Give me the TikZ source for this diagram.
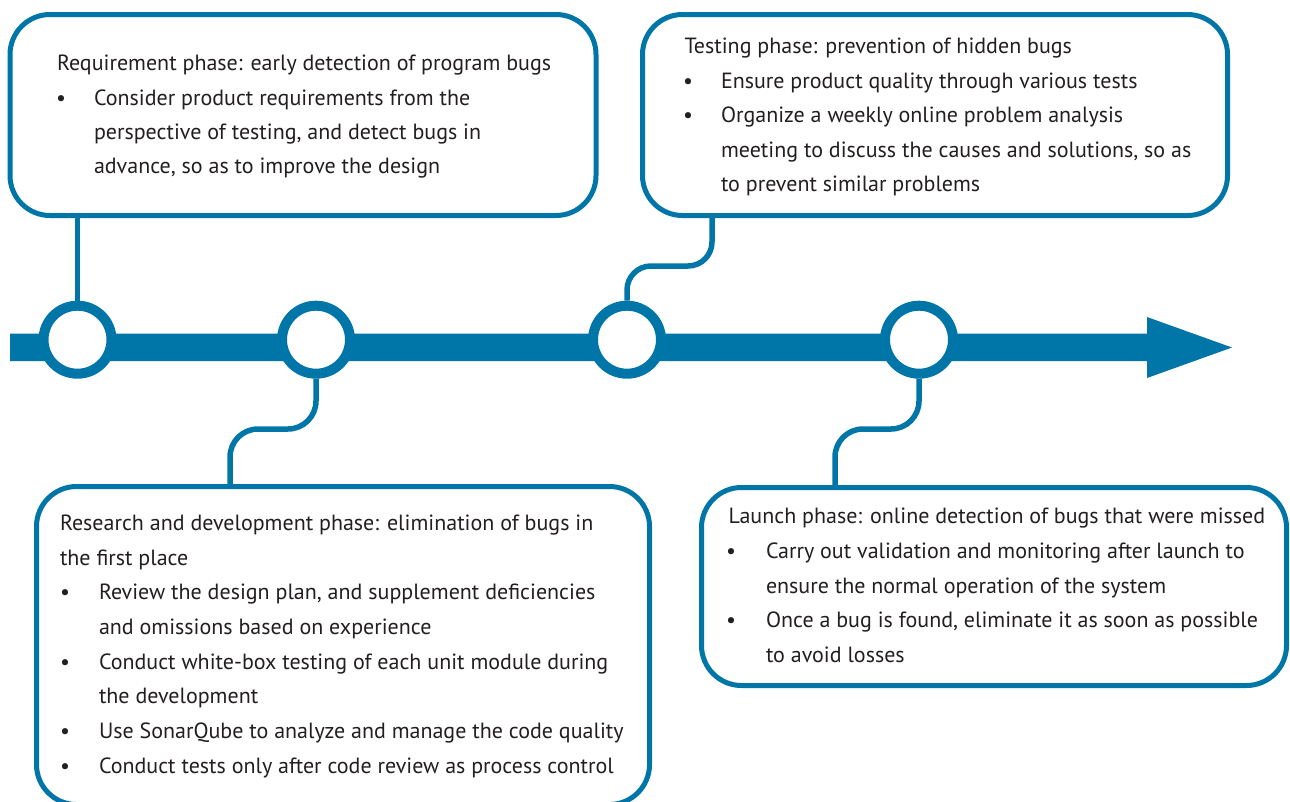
\documentclass[tikz,border=0pt]{standalone}
\usepackage{fontspec}
\setmainfont{PT Sans}
\definecolor{tblue}{RGB}{0,118,168}
\definecolor{ink}{RGB}{35,31,32}
\newcommand{\bodyfont}{\fontsize{22pt}{26pt}\selectfont}
\begin{document}
\begin{tikzpicture}[x=1pt,y=-1pt,
  txt/.style={anchor=base west, inner sep=0pt, outer sep=0pt, text=ink, font=\bodyfont},
  bul/.style={anchor=base, inner sep=0pt, outer sep=0pt, text=ink, font=\bodyfont},
  box/.style={draw=tblue, line width=5pt, rounded corners=40pt, fill=white, inner sep=0pt},
  ring/.style={circle, draw=tblue, line width=10pt, fill=white, minimum size=68pt, inner sep=0pt},
  link/.style={draw=tblue, line width=5.5pt},
]
\useasboundingbox (0,0) rectangle (1290,801);
\begin{scope}
\clip (0,0) rectangle (1290,801);
% boxes
\node[box, minimum width=586pt, minimum height=201pt] (b1) at (303,115) {};
\node[box, minimum width=585pt, minimum height=201pt] (b2) at (935,115) {};
\node[box, minimum width=613pt, minimum height=318pt] (b3) at (343,645.5) {};
\node[box, minimum width=585pt, minimum height=198pt] (b4) at (994,586.5) {};
% timeline arrow
\fill[tblue] (10,333.5) -- (1147,333.5) -- (1147,317) -- (1232,347.5) -- (1147,378) -- (1147,361) -- (10,361) -- cycle;
% rings
\node[ring] (c1) at (77.5,339.7) {};
\node[ring] (c2) at (316,339.7) {};
\node[ring] (c3) at (627,339.7) {};
\node[ring] (c4) at (919,339.7) {};
% connectors
\draw[link] (c1.north) -- (c1.north |- b1.south);
\draw[link, rounded corners=28pt] (c2.south) -- (316,429) -- (230,429) -- (230,487);
\draw[link, rounded corners=24pt] (c3.north) -- (627,266) -- (712,266) -- (712,215);
\draw[link, rounded corners=28pt] (c4.south) -- (919,429) -- (835,429) -- (835,488);
\end{scope}
% box 1 text
\node[txt] (t1a) at (57,70) {Requirement phase: early detection of program bugs};
\node[bul] (u1a) at (61,105) {•};
\node[txt] (t1b) at (94,105) {Consider product requirements from the};
\node[txt] (t1c) at (94,139.5) {perspective of testing, and detect bugs in};
\node[txt] (t1d) at (94,173) {advance, so as to improve the design};
% box 2 text
\node[txt] (t2a) at (684.5,53) {Testing phase: prevention of hidden bugs};
\node[bul] (u2a) at (688,88) {•};
\node[txt] (t2b) at (721,88) {Ensure product quality through various tests};
\node[bul] (u2b) at (688,122) {•};
\node[txt] (t2c) at (721,122) {Organize a weekly online problem analysis};
\node[txt] (t2d) at (721,157) {meeting to discuss the causes and solutions, so as};
\node[txt] (t2e) at (721,191) {to prevent similar problems};
% box 3 text
\node[txt] (t3a) at (60,530) {Research and development phase: elimination of bugs in};
\node[txt] (t3b) at (60,565) {the first place};
\node[bul] (u3a) at (65,599) {•};
\node[txt] (t3c) at (99,599) {Review the design plan, and supplement deficiencies};
\node[txt] (t3d) at (99,634) {and omissions based on experience};
\node[bul] (u3b) at (65,669) {•};
\node[txt] (t3e) at (99,669) {Conduct white-box testing of each unit module during};
\node[txt] (t3f) at (99,703) {the development};
\node[bul] (u3c) at (65,738) {•};
\node[txt] (t3g) at (99,738) {Use SonarQube to analyze and manage the code quality};
\node[bul] (u3d) at (65,773) {•};
\node[txt] (t3h) at (99,773) {Conduct tests only after code review as process control};
% box 4 text
\node[txt] (t4a) at (728.6,523) {Launch phase: online detection of bugs that were missed};
\node[bul] (u4a) at (731,558) {•};
\node[txt] (t4b) at (766,558) {Carry out validation and monitoring after launch to};
\node[txt] (t4c) at (766,593) {ensure the normal operation of the system};
\node[bul] (u4b) at (731,627) {•};
\node[txt] (t4d) at (766,627) {Once a bug is found, eliminate it as soon as possible};
\node[txt] (t4e) at (766,662) {to avoid losses};
\end{tikzpicture}
\end{document}
